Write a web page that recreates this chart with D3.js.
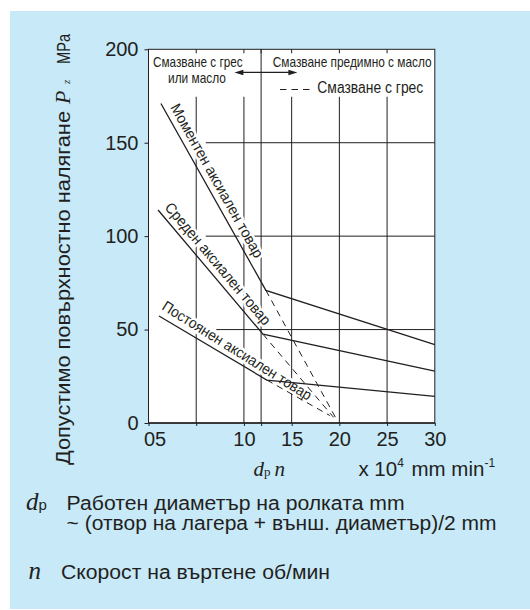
<!DOCTYPE html>
<html>
<head>
<meta charset="utf-8">
<script src="https://cdn.jsdelivr.net/npm/d3@7"></script>
<style>
    html, body { margin: 0; padding: 0; background: #fff; }
    svg { display: block; font-family: "Liberation Sans", Arial, sans-serif; }
</style>
</head>
<body>
<div id="chart"></div>
<script>
// Chart values
const xTicks = [0, 5, 10, 11.8, 15, 20, 25, 30];
const xTickLabels = ["05", "", "10", "", "15", "20", "25", "30"];
const yTicks = [0, 50, 100, 150, 200];
const loadNames = ["Моментен аксиален товар", "Среден аксиален товар", "Постоянен аксиален товар"];
// solid: oil lubrication, dashed: grease
const momentOil = [[1.3, 171], [12.3, 71], [30, 42]];
const mediumOil = [[1.0, 114], [12.0, 47.5], [30, 27.8]];
const constOil = [[1.1, 57.3], [12.4, 23], [30, 14.3]];
const momentGrease = [[12.3, 71], [19.7, 2]];
const mediumGrease = [[12.0, 47.5], [19.4, 3]];
const constGrease = [[12.4, 23], [19.0, 4]];

const width = 530, height = 610;
const ink = "#231f20";
const serif = "\"Liberation Serif\", serif";

// squeeze/stretch a text to the width it has in the original
function fit(sel, len) {
    return sel.attr("textLength", len).attr("lengthAdjust", "spacingAndGlyphs");
}

const svg = d3.select("#chart")
    .append("svg")
    .attr("width", width)
    .attr("height", height);

// Background panel
svg.append("rect")
    .attr("x", 10).attr("y", 11)
    .attr("width", width - 10).attr("height", height - 12)
    .attr("fill", "#c7e9f8");

// Scales
const x = d3.scaleLinear().domain([0, 30]).range([148.5, 434.8]);
const y = d3.scaleLinear().domain([0, 200]).range([423, 49.3]);

// Plot area
svg.append("rect")
    .attr("x", x(0)).attr("y", y(200))
    .attr("width", x(30) - x(0)).attr("height", y(0) - y(200))
    .attr("fill", "#fff");

// Grid lines (with the gaps the original leaves for text)
const grid = svg.append("g").attr("stroke", ink).attr("stroke-width", 1);
const hGridStart = { 50: 7.1, 100: 6, 150: 6 };
[50, 100, 150].forEach(v => {
    grid.append("line")
        .attr("x1", x(hGridStart[v])).attr("x2", x(30))
        .attr("y1", y(v)).attr("y2", y(v));
});
xTicks.filter(v => v > 0 && v < 30).forEach(v => {
    const top = v === 11.8 ? 200 : 174.6;
    grid.append("line")
        .attr("x1", x(v)).attr("x2", x(v))
        .attr("y1", y(top)).attr("y2", y(0));
    // short inner tick at the top edge
    grid.append("line")
        .attr("x1", x(v)).attr("x2", x(v))
        .attr("y1", y(200)).attr("y2", y(200) + 4);
});

// Curve labels along the first segment of each line
const lines = [momentOil, mediumOil, constOil];
const labelStart = [1.7, 1.15, 0.93];
const labelOffset = [6, 6, 7];
const labelLen = [174, 155, 173];
const labels = svg.append("g")
    .attr("font-size", 15)
    .attr("fill", ink);
lines.forEach((pts, i) => {
    const [a, b] = pts;
    const dx = x(b[0]) - x(a[0]), dy = y(b[1]) - y(a[1]);
    const ang = Math.atan2(dy, dx) + (i === 2 ? 0.023 : 0);
    const t = (labelStart[i] - a[0]) / (b[0] - a[0]);
    const px = x(a[0]) + dx * t + Math.sin(ang) * labelOffset[i];
    const py = y(a[1]) + dy * t - Math.cos(ang) * labelOffset[i];
    fit(labels.append("text"), labelLen[i])
        .attr("transform", `translate(${px},${py}) rotate(${ang * 180 / Math.PI})`)
        .attr("stroke", "#fff")
        .attr("stroke-width", 5)
        .attr("paint-order", "stroke")
        .text(loadNames[i]);
});

// Frame
svg.append("rect")
    .attr("x", x(0)).attr("y", y(200))
    .attr("width", x(30) - x(0)).attr("height", y(0) - y(200))
    .attr("fill", "none")
    .attr("stroke", ink)
    .attr("stroke-width", 1);

// Series
const line = d3.line().x(d => x(d[0])).y(d => y(d[1]));
svg.append("g")
    .selectAll("path")
    .data(lines)
    .join("path")
    .attr("d", line)
    .attr("fill", "none")
    .attr("stroke", ink)
    .attr("stroke-width", 1.3);
svg.append("g")
    .selectAll("path")
    .data([momentGrease, mediumGrease, constGrease])
    .join("path")
    .attr("d", line)
    .attr("fill", "none")
    .attr("stroke", ink)
    .attr("stroke-width", 1)
    .attr("stroke-dasharray", "6.5,5");

// Axes
const yAxis = svg.append("g")
    .attr("transform", `translate(${x(0)},0)`)
    .call(d3.axisLeft(y).tickValues(yTicks).tickSize(4).tickPadding(6));
const xAxis = svg.append("g")
    .attr("transform", `translate(0,${y(0)})`)
    .call(d3.axisBottom(x).tickValues(xTicks).tickSize(3).tickPadding(6)
        .tickFormat((d, i) => xTickLabels[i]));
[yAxis, xAxis].forEach(g => {
    g.select(".domain").remove();
    g.selectAll("line").attr("stroke", ink);
    g.selectAll("text")
        .attr("fill", ink)
        .attr("font-size", 20)
        .attr("font-family", "\"Liberation Sans\", Arial, sans-serif");
});
xAxis.append("line")
    .attr("x1", x(0)).attr("x2", x(30))
    .attr("stroke", ink).attr("stroke-width", 1.3);
xAxis.selectAll(".tick text").filter((d, i) => i === 0).attr("dx", 6);

// Lubrication zone notes at the top
const notes = svg.append("g").attr("fill", ink).attr("font-size", 15);
fit(notes.append("text"), 89.6)
    .attr("x", 153).attr("y", 66.7)
    .text("Смазване с грес");
fit(notes.append("text"), 58)
    .attr("x", 168).attr("y", 83.3)
    .text("или масло");
fit(notes.append("text"), 159)
    .attr("x", 272.7).attr("y", 66.7)
    .text("Смазване предимно с масло");

// Double arrow across the 12 line
const arrowY = y(187.6), ax0 = x(9.0), ax1 = x(15.6);
notes.append("line")
    .attr("x1", ax0 + 6).attr("x2", ax1 - 6)
    .attr("y1", arrowY).attr("y2", arrowY)
    .attr("stroke", ink).attr("stroke-width", 1.2);
notes.append("path")
    .attr("d", `M${ax0},${arrowY} l9,-2.7 v5.4 Z M${ax1},${arrowY} l-9,-2.7 v5.4 Z`);

// Dashed key
notes.append("line")
    .attr("x1", 280).attr("x2", 311)
    .attr("y1", 89.5).attr("y2", 89.5)
    .attr("stroke", ink).attr("stroke-width", 1.2)
    .attr("stroke-dasharray", "6.5,5");
fit(notes.append("text"), 106)
    .attr("x", 317.3).attr("y", 93.3)
    .attr("font-size", 16)
    .text("Смазване с грес");

// Y axis title (reads bottom to top)
const yTitle = svg.append("g")
    .attr("transform", "translate(70,465) rotate(-90)")
    .attr("fill", ink)
    .attr("font-size", 20);
fit(yTitle.append("text"), 354).attr("x", 0)
    .text("Допустимо повърхностно налягане");
yTitle.append("text").attr("x", 361)
    .attr("font-family", serif).attr("font-style", "italic").attr("font-size", 22)
    .text("P");
yTitle.append("text").attr("x", 381)
    .attr("font-family", serif).attr("font-style", "italic").attr("font-size", 11)
    .text("z");
fit(yTitle.append("text"), 30).attr("x", 401)
    .attr("font-size", 19)
    .text("MPa");

// X axis title
const xTitle = svg.append("text")
    .attr("x", 253.5).attr("y", 476)
    .attr("fill", ink)
    .attr("font-family", serif)
    .attr("font-size", 21);
xTitle.append("tspan").attr("font-style", "italic").text("d");
xTitle.append("tspan").attr("font-size", 13).text("p");
xTitle.append("tspan").attr("font-style", "italic").attr("dx", 4).text("n");

const unit = svg.append("text")
    .attr("x", 358.4).attr("y", 476)
    .attr("fill", ink)
    .attr("font-size", 20.5);
unit.append("tspan").text("x 10");
unit.append("tspan").attr("font-size", 12).attr("dy", -9).text("4");
unit.append("tspan").attr("dy", 9).attr("dx", 2).text(" mm min");
unit.append("tspan").attr("font-size", 12).attr("dy", -9).text("-1");

// Symbol explanations
const expl = svg.append("g").attr("fill", ink).attr("font-size", 20);
const dSym = expl.append("text").attr("x", 26).attr("y", 510);
dSym.append("tspan")
    .attr("font-family", serif)
    .attr("font-style", "italic")
    .attr("font-size", 25)
    .text("d");
dSym.append("tspan").attr("font-size", 15).text("p");
fit(expl.append("text"), 338).attr("x", 66.6).attr("y", 510)
    .text("Работен диаметър на ролката mm");
fit(expl.append("text"), 430).attr("x", 66.6).attr("y", 530)
    .text("~ (отвор на лагера + външ. диаметър)/2 mm");
expl.append("text").attr("x", 28.5).attr("y", 579)
    .attr("font-family", serif)
    .attr("font-style", "italic")
    .attr("font-size", 25)
    .text("n");
fit(expl.append("text"), 269).attr("x", 61).attr("y", 579)
    .text("Скорост на въртене об/мин");
</script>
</body>
</html>
